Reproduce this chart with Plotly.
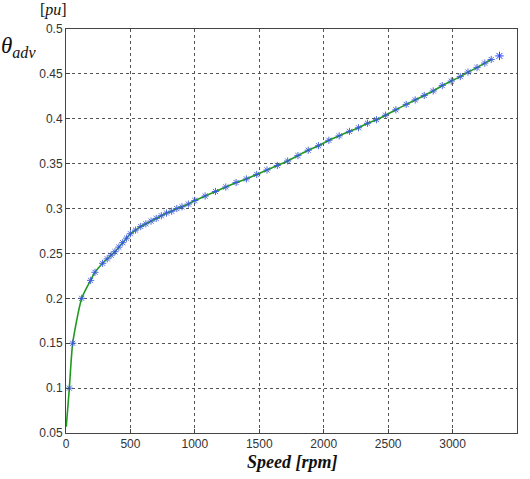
import plotly.graph_objects as go

# measured data (speed rpm, advance angle pu)
speed = [2, 26, 52, 122, 191, 225, 284, 320, 350, 380, 410, 440, 470, 500, 540, 580,
         620, 660, 700, 740, 780, 820, 860, 900, 950, 1000, 1080, 1160, 1240, 1320,
         1400, 1480, 1560, 1640, 1720, 1800, 1880, 1960, 2040, 2120, 2200, 2270, 2340,
         2410, 2480, 2560, 2640, 2710, 2780, 2850, 2920, 2990, 3060, 3120, 3190, 3250, 3300]
theta = [0.057, 0.100, 0.150, 0.200, 0.220, 0.229, 0.239, 0.244, 0.248, 0.252, 0.257,
         0.262, 0.267, 0.272, 0.276, 0.280, 0.283, 0.286, 0.289, 0.292, 0.295, 0.297,
         0.300, 0.302, 0.305, 0.309, 0.314, 0.319, 0.324, 0.329, 0.333, 0.338, 0.343,
         0.348, 0.353, 0.359, 0.365, 0.370, 0.376, 0.381, 0.386, 0.390, 0.395, 0.399,
         0.404, 0.410, 0.416, 0.421, 0.426, 0.431, 0.437, 0.442, 0.447, 0.452, 0.457,
         0.462, 0.466]
extra_speed = [3364]
extra_theta = [0.470]

x_ticks = [0, 500, 1000, 1500, 2000, 2500, 3000, 3500]
y_ticks = [0.05, 0.1, 0.15, 0.2, 0.25, 0.3, 0.35, 0.4, 0.45, 0.5]
y_ticktext = ["0.05", "0.1", "0.15", "0.2", "0.25", "0.3", "0.35", "0.4", "0.45", "0.5"]

fig = go.Figure()
fig.add_trace(go.Scatter(x=speed, y=theta, mode="lines",
                         line=dict(color="#1f9a1f", width=1.6, shape="spline", smoothing=0.6),
                         showlegend=False, hoverinfo="skip"))
fig.add_trace(go.Scatter(x=speed[1:], y=theta[1:], mode="markers",
                         marker=dict(symbol="asterisk-open", size=6, color="#3a5ad8",
                                     line=dict(width=0.9)),
                         showlegend=False))
fig.add_trace(go.Scatter(x=extra_speed, y=extra_theta, mode="markers",
                         marker=dict(symbol="asterisk-open", size=7, color="#2040ff",
                                     line=dict(width=1)),
                         showlegend=False))

axis_common = dict(showline=True, linecolor="#444", linewidth=1, mirror=True,
                   showgrid=True, gridcolor="#555", griddash="dot", gridwidth=1,
                   ticks="inside", ticklen=4, tickcolor="#444", zeroline=False,
                   tickfont=dict(family="Liberation Sans, Arial", size=12, color="#333"))

fig.update_xaxes(range=[0, 3500], tickvals=x_ticks, **axis_common)
fig.update_yaxes(range=[0.05, 0.5], tickvals=y_ticks, ticktext=y_ticktext, **axis_common)

fig.update_layout(
    width=530, height=479,
    margin=dict(l=66, r=13, t=29, b=46),
    paper_bgcolor="white", plot_bgcolor="white",
    annotations=[
        dict(text="<i>θ</i><sub><i>adv</i></sub>", xref="paper", yref="paper",
             x=-0.148, y=0.955, xanchor="left", yanchor="middle", showarrow=False,
             font=dict(family="Liberation Serif, Times New Roman", size=23, color="#111")),
        dict(text="[<i>pu</i>]", xref="paper", yref="paper",
             x=-0.062, y=1.02, xanchor="left", yanchor="bottom", showarrow=False,
             font=dict(family="Liberation Serif, Times New Roman", size=16, color="#111")),
        dict(text="<b><i>Speed [rpm]</i></b>", xref="paper", yref="paper",
             x=0.5, y=-0.072, xanchor="center", yanchor="middle", showarrow=False,
             font=dict(family="Liberation Serif, Times New Roman", size=18, color="#111")),
    ],
)

fig.write_html("out.html")
